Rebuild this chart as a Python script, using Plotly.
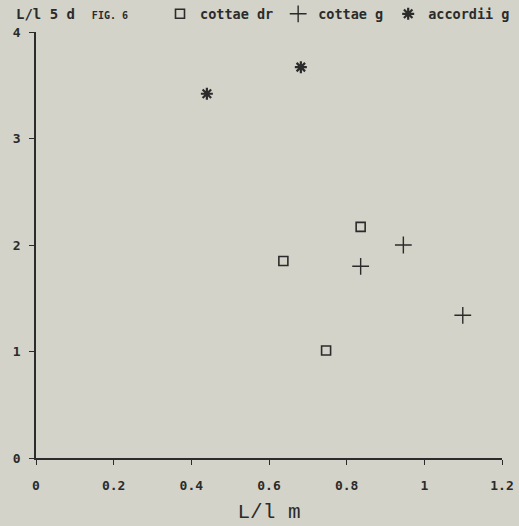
import plotly.graph_objects as go

# data
dr_x = [0.637, 0.747, 0.836]
dr_y = [1.85, 1.01, 2.17]
g_x = [0.836, 0.946, 1.099]
g_y = [1.80, 2.00, 1.34]
acc_x = [0.44, 0.682]
acc_y = [3.42, 3.67]
x_ticks = [0, 0.2, 0.4, 0.6, 0.8, 1, 1.2]
x_labels = ["0", "0.2", "0.4", "0.6", "0.8", "1", "1.2"]
y_ticks = [0, 1, 2, 3, 4]

BG = "#d3d3c9"
INK = "#2b2b2b"
MONO = "DejaVu Sans Mono"
TITLE_FONT = "Liberation Mono"

fig = go.Figure()
fig.add_trace(go.Scatter(x=dr_x, y=dr_y, mode="markers", name="cottae dr",
                         marker=dict(symbol="square-open", size=9, color=INK,
                                     line=dict(width=1.6, color=INK))))
fig.add_trace(go.Scatter(x=g_x, y=g_y, mode="markers", name="cottae g",
                         marker=dict(symbol="cross-thin-open", size=12, color=INK,
                                     line=dict(width=1.4, color=INK))))
fig.add_trace(go.Scatter(x=acc_x, y=acc_y, mode="markers", name="accordii g",
                         marker=dict(symbol="asterisk-open", size=10, color=INK,
                                     line=dict(width=2.2, color=INK))))

fig.update_layout(
    width=519, height=526,
    paper_bgcolor=BG, plot_bgcolor=BG,
    margin=dict(l=36, r=17, t=32, b=68, autoexpand=False),
    font=dict(family=MONO, color=INK, size=12),
    showlegend=True,
    legend=dict(orientation="h", xref="container", yref="container",
                x=160 / 519, xanchor="left", y=1 - 14 / 526, yanchor="middle",
                bgcolor="rgba(0,0,0,0)", font=dict(family=MONO, size=13.5, weight="bold"),
                itemwidth=30, tracegroupgap=0),
    xaxis=dict(range=[0, 1.2], tickvals=x_ticks, ticktext=x_labels, automargin=False,
               showgrid=False, zeroline=False, showline=True, linecolor=INK, linewidth=1.5,
               ticks="outside", ticklen=5, tickwidth=1.2, tickcolor=INK, ticklabelstandoff=10,
               tickfont=dict(family=MONO, size=13, weight="bold"),
               title=dict(text="L/l m", font=dict(family=TITLE_FONT, size=21), standoff=11)),
    yaxis=dict(range=[0, 4], tickvals=y_ticks, automargin=False,
               showgrid=False, zeroline=False, showline=True, linecolor=INK, linewidth=1.5,
               ticks="outside", ticklen=5, tickwidth=1.2, tickcolor=INK, ticklabelstandoff=6,
               tickfont=dict(family=MONO, size=13, weight="bold")),
)
fig.add_annotation(text="L/l 5 d  <span style='font-size:10px'>FIG. 6</span>",
                   xref="paper", yref="paper",
                   x=0, y=1, xanchor="left", yanchor="middle", showarrow=False,
                   xshift=-22, yshift=18,
                   font=dict(family=MONO, size=14, weight="bold", color=INK))
fig.write_html("out.html",
               config={"displayModeBar": False},
               post_script="document.body.style.margin='0';"
                           "document.body.style.background='%s';" % BG)
